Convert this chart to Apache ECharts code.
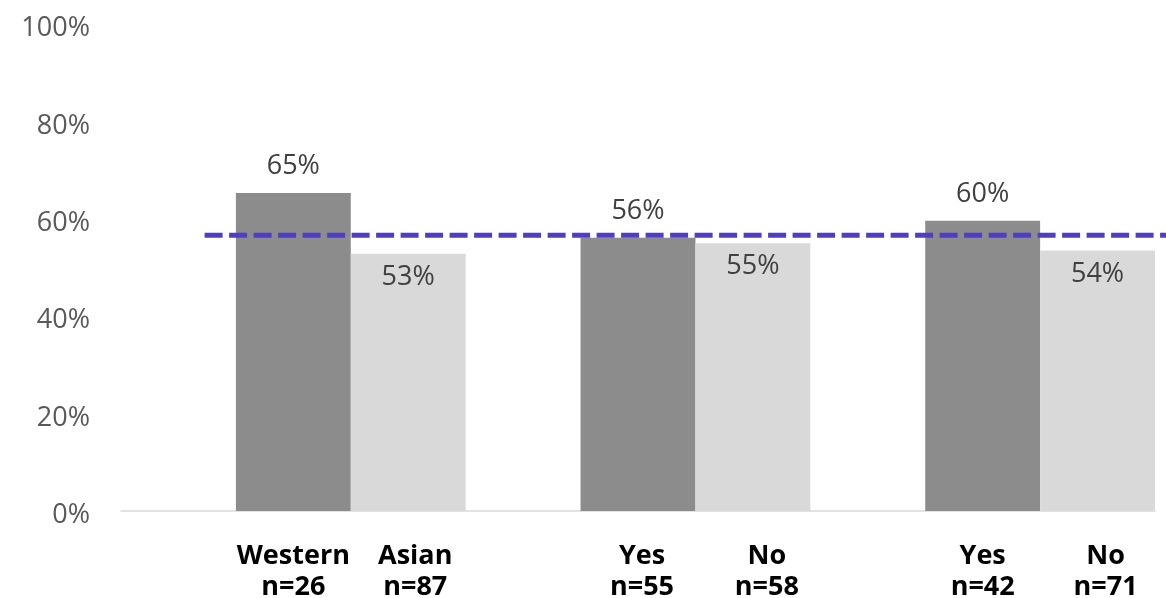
<!DOCTYPE html>
<html>
<head>
<meta charset="utf-8">
<script src="https://cdn.jsdelivr.net/npm/echarts@6/dist/echarts.min.js"></script>
<style>
html,body{margin:0;padding:0;background:#fff;}
#chart{width:1166px;height:598px;}
</style>
</head>
<body>
<div id="chart"></div>
<script>
// ---- data ----
const groups = ['Group 1', 'Group 2', 'Group 3'];
const barNames = ['Western', 'Asian', 'Yes', 'No', 'Yes', 'No'];
const sampleSizes = [26, 87, 55, 58, 42, 71];
const darkValues = [0.653, 0.561, 0.596];
const lightValues = [0.528, 0.550, 0.535];
const referenceValue = 0.566;
const referenceSpan = [8, 100];          // start / end, in % of the horizontal axis
const yTicks = [0, 0.2, 0.4, 0.6, 0.8, 1.0];

// small horizontal nudges of the bottom labels (px), as in the reference
const labelNudge = [0, 7, 4, 14, 0, 8];

// 9 slots: blank, dark, light per group (for the bottom labels)
const slotLabels = [];
for (let g = 0; g < groups.length; g++) {
  slotLabels.push('');
  for (let k = 0; k < 2; k++) {
    const i = g * 2 + k;
    slotLabels.push({
      value: barNames[i] + '\nn=' + sampleSizes[i],
      textStyle: {padding: [0, 0, 0, labelNudge[i] * 2]}
    });
  }
}

const chart = echarts.init(document.getElementById('chart'), null, {renderer: 'canvas'});
const pct = v => Math.round(v * 100) + '%';
const baseFont = '"Open Sans", sans-serif';

chart.setOption({
  animation: false,
  backgroundColor: '#ffffff',
  grid: [
    {left: 121, right: 11, top: 24, bottom: 87, containLabel: false, outerBoundsMode: 'none'},
    {left: 121, right: 0, top: 24, bottom: 87, containLabel: false, outerBoundsMode: 'none'}
  ],
  xAxis: [
    {type: 'category', gridIndex: 0, data: groups,
     axisLine: {show: true, lineStyle: {color: '#d9d9d9', width: 1.5}},
     axisTick: {show: false}, axisLabel: {show: false}},
    {type: 'category', gridIndex: 0, data: slotLabels, position: 'bottom',
     axisLine: {show: false}, axisTick: {show: false},
     axisLabel: {interval: 0, margin: 30, fontFamily: baseFont, fontSize: 27,
       fontWeight: 'bold', color: '#000000', lineHeight: 31}},
    {type: 'value', gridIndex: 1, min: 0, max: 100, show: false}
  ],
  yAxis: [
    {type: 'value', gridIndex: 0, min: yTicks[0], max: yTicks[yTicks.length - 1], interval: 0.2,
     axisLine: {show: false}, axisTick: {show: false}, splitLine: {show: false},
     axisLabel: {formatter: v => pct(v), fontFamily: baseFont, fontSize: 27,
       color: '#595959', margin: 31, verticalAlign: 'top', lineHeight: 9}},
    {type: 'value', gridIndex: 1, min: 0, max: 1, show: false}
  ],
  series: [
    {type: 'bar', xAxisIndex: 0, yAxisIndex: 0, data: groups.map(() => '-'),
     barGap: '0%', barCategoryGap: '0%', itemStyle: {color: 'transparent'}},
    {type: 'bar', xAxisIndex: 0, yAxisIndex: 0, data: darkValues,
     barGap: '0%', barCategoryGap: '0%',
     itemStyle: {color: '#8c8c8c'},
     label: {show: true, position: 'top', distance: 13, formatter: p => pct(p.value),
       fontFamily: baseFont, fontSize: 27, color: '#404040'}},
    {type: 'bar', xAxisIndex: 0, yAxisIndex: 0, data: lightValues,
     barGap: '0%', barCategoryGap: '0%',
     itemStyle: {color: '#d9d9d9'},
     label: {show: true, position: 'insideTop', distance: 10, formatter: p => pct(p.value),
       fontFamily: baseFont, fontSize: 27, color: '#404040'}},
    {type: 'line', xAxisIndex: 2, yAxisIndex: 1, z: 5,
     data: referenceSpan.map(x => [x, referenceValue]),
     symbol: 'none', silent: true,
     lineStyle: {color: '#4f3fbf', width: 5, type: [18, 6.5]}}
  ]
});
</script>
</body>
</html>
